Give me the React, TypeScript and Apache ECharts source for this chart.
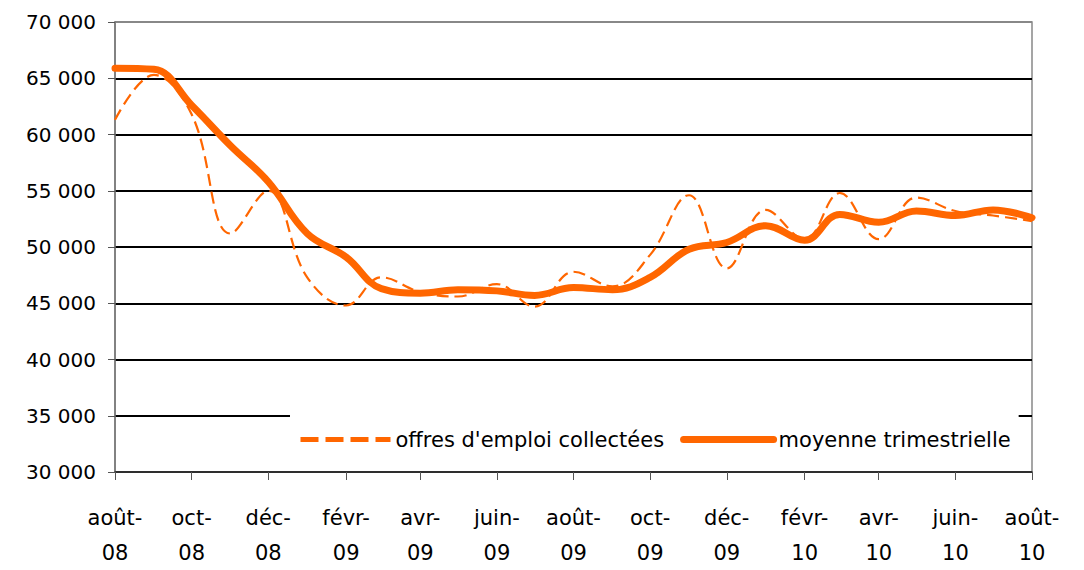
import React, { useEffect, useRef } from "react";
import * as echarts from "echarts";

const months: string[] = [
  "2008-08", "2008-09", "2008-10", "2008-11", "2008-12",
  "2009-01", "2009-02", "2009-03", "2009-04", "2009-05", "2009-06", "2009-07",
  "2009-08", "2009-09", "2009-10", "2009-11", "2009-12",
  "2010-01", "2010-02", "2010-03", "2010-04", "2010-05", "2010-06", "2010-07",
  "2010-08",
];

const offres: number[] = [
  61300, 65300, 61800, 51200, 55000,
  47300, 44800, 47300, 46000, 45600, 46700, 44700,
  47800, 46500, 49300, 54600, 48100,
  53300, 50700, 54800, 50700, 54400, 53200, 52800,
  52300,
];

const moyenne: number[] = [
  65900, 65800, 62600, 59000, 55800,
  51200, 49100, 46300, 45900, 46200, 46100, 45700,
  46400, 46200, 47300, 49800, 50400,
  51900, 50600, 52900, 52200, 53200, 52800, 53300,
  52600,
];

const tickMonths: string[] = [
  "2008-08", "2008-10", "2008-12", "2009-02", "2009-04", "2009-06", "2009-08",
  "2009-10", "2009-12", "2010-02", "2010-04", "2010-06", "2010-08",
];
const tickLabels: string[] = [
  "août-\n08", "oct-\n08", "déc-\n08", "févr-\n09", "avr-\n09", "juin-\n09", "août-\n09",
  "oct-\n09", "déc-\n09", "févr-\n10", "avr-\n10", "juin-\n10", "août-\n10",
];

const seriesNames = ["offres d'emploi collectées", "moyenne trimestrielle"];

// days elapsed since the first month (calendar spacing of the date axis)
const toDay = (m: string) => {
  const [y, mo] = m.split("-").map(Number);
  const t0 = Date.UTC(2008, 7, 1);
  return Math.round((Date.UTC(y, mo - 1, 1) - t0) / 86400000);
};

const FONT = "DejaVu Sans";
const ORANGE = "#FF6600";

export default function App() {
  const ref = useRef<HTMLDivElement>(null);

  useEffect(() => {
    if (!ref.current) return;
    const chart = echarts.init(ref.current, undefined, { renderer: "svg" });
    const xs = months.map(toDay);
    const tickXs = tickMonths.map(toDay);
    const labelFor = (v: number) => {
      let best = 0;
      let bd = Infinity;
      tickXs.forEach((t, i) => {
        const d = Math.abs(t - v);
        if (d < bd) {
          bd = d;
          best = i;
        }
      });
      return tickLabels[best];
    };

    chart.setOption({
      animation: false,
      backgroundColor: "#fff",
      textStyle: { fontFamily: FONT },
      grid: {
        left: 115,
        right: 52,
        top: 22,
        bottom: 95,
        show: true,
        borderColor: "#888",
        borderWidth: 1.5,
        backgroundColor: "transparent",
      },
      xAxis: {
        type: "value",
        min: xs[0],
        max: xs[xs.length - 1],
        axisLine: { show: true, onZero: false, lineStyle: { color: "#333", width: 1.5 } },
        axisTick: {
          show: true,
          customValues: tickXs,
          length: 8,
          lineStyle: { color: "#555", width: 1 },
        },
        axisLabel: {
          customValues: tickXs,
          formatter: (v: number) => labelFor(v),
          fontSize: 21,
          lineHeight: 35,
          margin: 28,
          color: "#000",
          fontFamily: FONT,
          hideOverlap: false,
        },
        splitLine: { show: false },
      },
      yAxis: {
        type: "value",
        min: 30000,
        max: 70000,
        interval: 5000,
        axisLine: { show: true, lineStyle: { color: "#777", width: 1.5 } },
        axisTick: { show: true, length: 7, lineStyle: { color: "#555", width: 1 } },
        axisLabel: {
          formatter: (v: number) => `${Math.round(v / 1000)} 000`,
          fontSize: 20,
          margin: 19,
          color: "#000",
          fontFamily: FONT,
        },
        splitLine: {
          show: true,
          lineStyle: {
            color: ["#222", "#000", "#000", "#000", "#000", "#000", "#000", "#000", "#888"],
            width: 1.8,
          },
        },
      },
      legend: {
        left: 290,
        top: 404,
        padding: [25, 8, 12, 8],
        backgroundColor: "#fff",
        itemWidth: 90,
        itemHeight: 16,
        itemGap: 16,
        textStyle: { fontSize: 21, color: "#000", fontFamily: FONT },
        data: [
          {
            name: seriesNames[0],
            itemStyle: { opacity: 0 },
            lineStyle: { width: 5, type: [18, 7], color: ORANGE, cap: "butt" },
            textStyle: { width: 272 },
          },
          {
            name: seriesNames[1],
            itemStyle: { opacity: 0 },
            lineStyle: { width: 7, color: ORANGE, cap: "round" },
            textStyle: { width: 245 },
          },
        ],
      },
      series: [
        {
          name: seriesNames[0],
          type: "line",
          data: xs.map((x, i) => [x, offres[i]]),
          smooth: 0.4,
          symbol: "none",
          lineStyle: { color: ORANGE, width: 2.2, type: [12, 6] },
          itemStyle: { color: ORANGE },
          z: 3,
        },
        {
          name: seriesNames[1],
          type: "line",
          data: xs.map((x, i) => [x, moyenne[i]]),
          smooth: 0.4,
          symbol: "none",
          lineStyle: { color: ORANGE, width: 7, cap: "round", join: "round" },
          itemStyle: { color: ORANGE },
          z: 4,
        },
      ],
    });

    return () => chart.dispose();
  }, []);

  return (
    <div
      ref={ref}
      style={{ position: "fixed", left: 0, top: 0, width: 1084, height: 570, background: "#fff" }}
    />
  );
}
